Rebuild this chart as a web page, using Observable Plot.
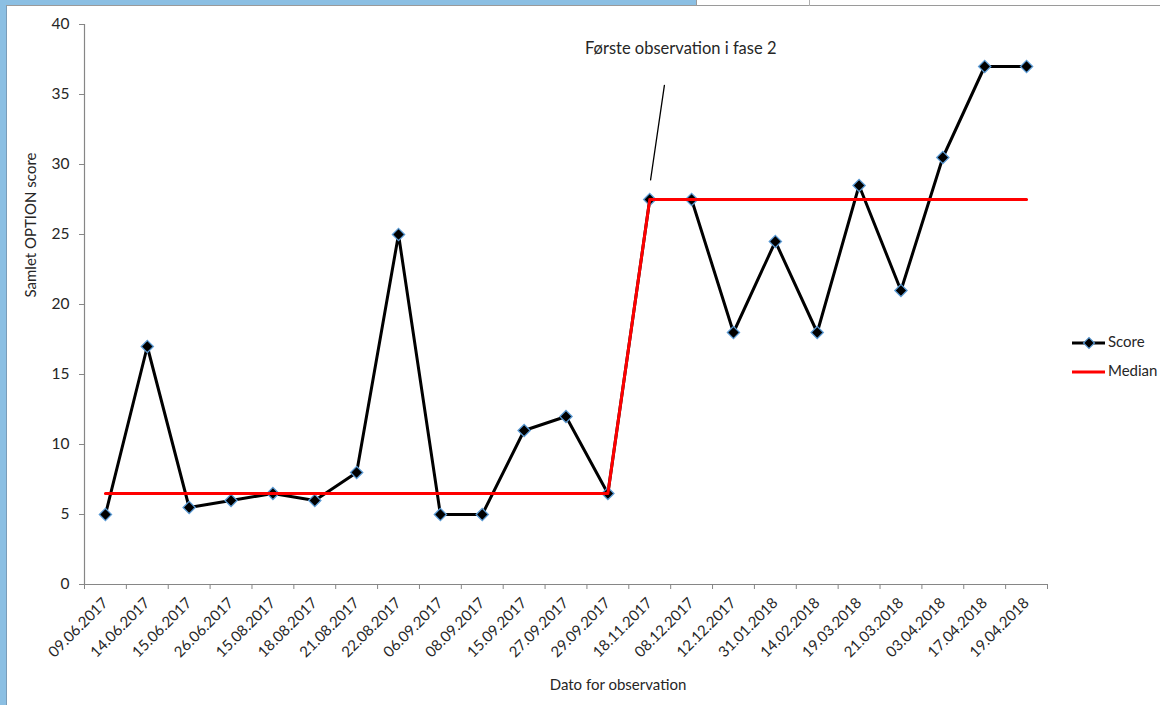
<!DOCTYPE html>
<html><head><meta charset="utf-8">
<script src="https://cdn.jsdelivr.net/npm/d3@7"></script>
<script src="https://cdn.jsdelivr.net/npm/@observablehq/plot@0.6"></script>
<style>
body{margin:0;background:#fff;width:1160px;height:705px;overflow:hidden;position:relative;font-family:Lato,sans-serif}
#chart{position:absolute;left:0;top:0}
.deco{position:absolute}
</style></head><body>
<div id="chart"></div>
<div class="deco" style="left:0;top:0;width:7px;height:705px;background:#8bbfe3"></div>
<div class="deco" style="left:6px;top:5px;width:1px;height:700px;background:#7a9cb8"></div>
<div class="deco" style="left:0;top:0;width:697px;height:5px;background:#8bbfe3"></div>
<div class="deco" style="left:6px;top:5px;width:1154px;height:1px;background:#9a9a9a"></div>
<div class="deco" style="left:696px;top:0;width:1px;height:6px;background:#9a9a9a"></div>
<div class="deco" style="left:809px;top:0;width:1px;height:6px;background:#b0b0b0"></div>
<script>
const dates = ["09.06.2017","14.06.2017","15.06.2017","26.06.2017","15.08.2017","18.08.2017","21.08.2017","22.08.2017","06.09.2017","08.09.2017","15.09.2017","27.09.2017","29.09.2017","18.11.2017","08.12.2017","12.12.2017","31.01.2018","14.02.2018","19.03.2018","21.03.2018","03.04.2018","17.04.2018","19.04.2018"];
const scores = [5,17,5.5,6,6.5,6,8,25,5,5,11,12,6.5,27.5,27.5,18,24.5,18,28.5,21,30.5,37,37];
const medians = [6.5,6.5,6.5,6.5,6.5,6.5,6.5,6.5,6.5,6.5,6.5,6.5,6.5,27.5,27.5,27.5,27.5,27.5,27.5,27.5,27.5,27.5,27.5];
const yTicks = [0,5,10,15,20,25,30,35,40];
const seriesNames = ["Score","Median"];
const yTitle = "Samlet OPTION score";
const xTitle = "Dato for observation";
const annotationText = ["Første observation i fase 2"];
const annotationTextPos = [{x:13.74, y:38.3}];
const annotationLine = [{x:13.35, y:35.65},{x:13.02, y:28.9}];

const n = dates.length;
const idx = d3.range(n);
const axisGray = "#868686";
const textColor = "#262626";
const fs = 15;

const plot = Plot.plot({
  width:1160, height:705,
  marginLeft:84, marginRight:113, marginTop:24, marginBottom:121,
  style:{fontFamily:"Lato, sans-serif", fontSize:fs+"px", color:textColor, background:"transparent", overflow:"visible"},
  x:{type:"linear", domain:[-0.5, n-0.5], axis:null},
  y:{domain:[0,40], axis:null},
  marks:[
    Plot.ruleY([0], {stroke:axisGray, strokeWidth:1.2}),
    Plot.ruleX([-0.5], {stroke:axisGray, strokeWidth:1.2}),
    Plot.axisX({ticks:d3.range(-0.5, n, 1), tickFormat:() => "", tickSize:5, stroke:axisGray, label:null}),
    Plot.axisX({ticks:idx, tickFormat:i => dates[i], tickSize:0, tickPadding:16, tickRotate:-45, fill:textColor, fontSize:fs, label:null}),
    Plot.axisY({ticks:yTicks, tickSize:5, tickPadding:10, stroke:axisGray, fill:textColor, fontSize:fs+0.5, label:null}),
    Plot.line(idx, {x:i => i, y:i => scores[i], stroke:"#000", strokeWidth:3}),
    Plot.dot(idx, {x:i => i, y:i => scores[i], symbol:"diamond2", r:5.5, fill:"#000", stroke:"#5b9bd5", strokeWidth:1.3}),
    Plot.line(idx, {x:i => i, y:i => medians[i], stroke:"#ff0000", strokeWidth:3}),
    Plot.line(annotationLine, {x:"x", y:"y", stroke:"#000", strokeWidth:1.3}),
    Plot.text(annotationText, {x:() => annotationTextPos[0].x, y:() => annotationTextPos[0].y, text:d => d, fontSize:16.5, fill:textColor})
  ]
});
document.getElementById("chart").appendChild(plot);

const svg = d3.select(plot);
svg.append("text").attr("transform","translate(32,225) rotate(-90)")
  .attr("text-anchor","middle").attr("dominant-baseline","middle")
  .attr("fill",textColor).style("font-size",fs+"px").text(yTitle);
svg.append("text").attr("x",618).attr("y",686)
  .attr("text-anchor","middle").attr("dominant-baseline","middle")
  .attr("fill",textColor).style("font-size",fs+"px").text(xTitle);

// legend
const lg = svg.append("g").attr("text-anchor","start");
lg.append("line").attr("x1",1072).attr("x2",1105).attr("y1",343).attr("y2",343).attr("stroke","#000").attr("stroke-width",3);
lg.append("path").attr("d", d3.symbol(d3.symbolSquare, 60)()).attr("transform","translate(1089,343) rotate(45)")
  .attr("fill","#000").attr("stroke","#5b9bd5").attr("stroke-width",1.2);
lg.append("text").attr("x",1108).attr("y",343).attr("text-anchor","start").attr("dominant-baseline","middle").attr("fill",textColor).style("font-size",fs+"px").text(seriesNames[0]);
lg.append("line").attr("x1",1072).attr("x2",1105).attr("y1",372).attr("y2",372).attr("stroke","#ff0000").attr("stroke-width",3);
lg.append("text").attr("x",1108).attr("y",372).attr("text-anchor","start").attr("dominant-baseline","middle").attr("fill",textColor).style("font-size",fs+"px").text(seriesNames[1]);
</script>
</body></html>
